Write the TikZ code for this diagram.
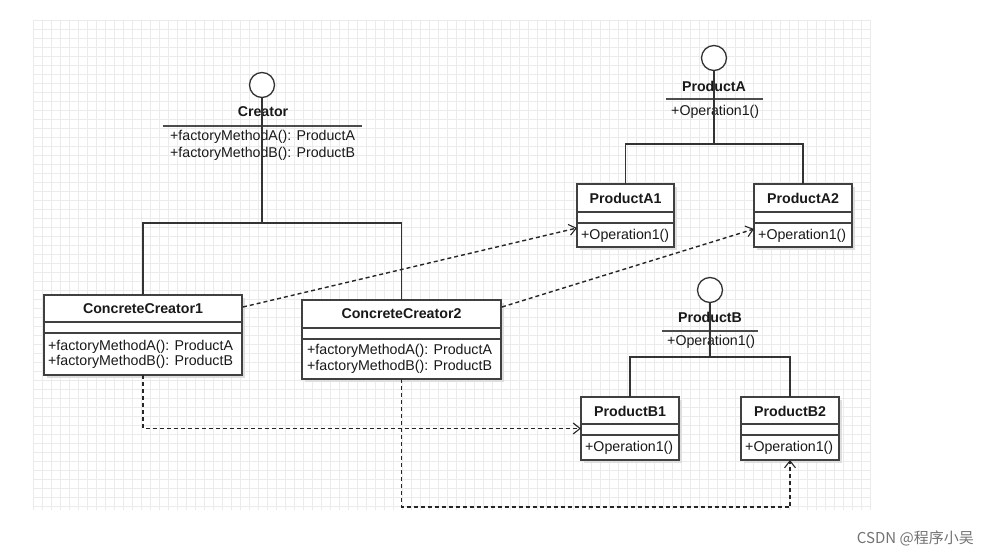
\documentclass[tikz,border=0pt]{standalone}
\usepackage{fontspec}
\setmainfont{Liberation Sans}
\newfontfamily\cjk{Noto Sans CJK SC}
\usetikzlibrary{arrows.meta,shadows,calc}
\begin{document}
\begin{tikzpicture}[x=1pt,y=-1pt,
  clsbox/.style={draw=black!75, line width=1.2pt, fill=white, inner sep=0pt, outer sep=0pt, anchor=north west,
    drop shadow={shadow xshift=3pt, shadow yshift=-3pt, fill=black!13, opacity=1}},
  sepline/.style={draw=black!75, line width=1.2pt},
  gen/.style={draw=black!80, line width=1.5pt},
  dep/.style={draw=black!85, line width=1.4pt, dash pattern=on 4pt off 3pt,
    -{Straight Barb[length=7pt,width=11pt,line width=1.1pt]}},
  ttl/.style={font=\fontsize{14.2}{16}\selectfont\bfseries, inner sep=0pt, text=black!90},
  mth/.style={font=\fontsize{14.2}{16}\selectfont, inner sep=0pt, anchor=west, text=black!90},
  lolli/.style={draw=black!80, line width=1.3pt, fill=white, circle, minimum size=25pt, inner sep=0pt},
  gridln/.style={draw=black!8, line width=0.8pt},
  hline/.style={draw=black!70, line width=1.4pt}
]
\useasboundingbox (0,0) rectangle (988,556);
\fill[white] (0,0) rectangle (988,556);
% background grid
\foreach \x in {33,42,...,870} \draw[gridln] (\x,20) -- (\x,510);
\foreach \y in {20,29,...,510} \draw[gridln] (33,\y) -- (870,\y);

% ---------- Creator interface ----------
\node[ttl] (crT) at (263,112) {Creator};
\draw[hline] (163,126) -- (362,126);
\node[mth] (crM1) at (170,137) {+factoryMethodA(): ProductA};
\node[mth] (crM2) at (170,154) {+factoryMethodB(): ProductB};
\node[lolli] (crC) at (262,85) {};

% ---------- ConcreteCreator1 ----------
\node[clsbox, minimum width=198pt, minimum height=80pt] (cc1) at (44,295) {};
\draw[sepline] (44,322) -- (242,322);
\draw[sepline] (44,333) -- (242,333);
\node[ttl] (cc1T) at (143,308.5) {ConcreteCreator1};
\node[mth] (cc1M1) at (48,347) {+factoryMethodA(): ProductA};
\node[mth] (cc1M2) at (48,362) {+factoryMethodB(): ProductB};

% ---------- ConcreteCreator2 ----------
\node[clsbox, minimum width=199pt, minimum height=79pt] (cc2) at (302,300) {};
\draw[sepline] (302,328) -- (501,328);
\draw[sepline] (302,339) -- (501,339);
\node[ttl] (cc2T) at (401.5,314) {ConcreteCreator2};
\node[mth] (cc2M1) at (307,351) {+factoryMethodA(): ProductA};
\node[mth] (cc2M2) at (307,367) {+factoryMethodB(): ProductB};

% ---------- ProductA interface ----------
\node[ttl] (paT) at (714,86) {ProductA};
\draw[hline] (666,99) -- (763,99);
\node[mth] (paM) at (671,112) {+Operation1()};
\node[lolli] (paC) at (714,58) {};

% ---------- ProductA1 / A2 ----------
\node[clsbox, minimum width=97pt, minimum height=63pt] (pa1) at (577,184) {};
\draw[sepline] (577,212) -- (674,212);
\draw[sepline] (577,223) -- (674,223);
\node[ttl] (pa1T) at (625.5,198) {ProductA1};
\node[mth] (pa1M) at (581,235.5) {+Operation1()};

\node[clsbox, minimum width=98pt, minimum height=63pt] (pa2) at (754,184) {};
\draw[sepline] (754,212) -- (852,212);
\draw[sepline] (754,223) -- (852,223);
\node[ttl] (pa2T) at (803,198) {ProductA2};
\node[mth] (pa2M) at (758,235.5) {+Operation1()};

% ---------- ProductB interface ----------
\node[ttl] (pbT) at (710,317) {ProductB};
\draw[hline] (662,331) -- (758,331);
\node[mth] (pbM) at (667,342) {+Operation1()};
\node[lolli] (pbC) at (710,290) {};

% ---------- ProductB1 / B2 ----------
\node[clsbox, minimum width=98pt, minimum height=63pt] (pb1) at (581,397) {};
\draw[sepline] (581,424) -- (679,424);
\draw[sepline] (581,435) -- (679,435);
\node[ttl] (pb1T) at (630,411) {ProductB1};
\node[mth] (pb1M) at (585,447.5) {+Operation1()};

\node[clsbox, minimum width=98pt, minimum height=63pt] (pb2) at (741,397) {};
\draw[sepline] (741,424) -- (839,424);
\draw[sepline] (741,435) -- (839,435);
\node[ttl] (pb2T) at (790,411) {ProductB2};
\node[mth] (pb2M) at (745,447.5) {+Operation1()};

% ---------- generalisation trees ----------
\coordinate (crJ) at (262,223);
\draw[gen] (crC.south) -- (crJ);
\draw[gen] (cc1.north) |- (crJ) -| (cc2.north);

\coordinate (paJ) at (714,144);
\draw[gen] (paC.south) -- (paJ);
\draw[gen] (pa1.north) |- (paJ) -| (pa2.north);

\coordinate (pbJ) at (710,357);
\draw[gen] (pbC.south) -- (pbJ);
\draw[gen] (pb1.north) |- (pbJ) -| (pb2.north);

% ---------- dependencies ----------
\draw[dep] ($(cc1.north east)+(1,12)$) -- ($(pa1.south west)+(0,-19)$);
\draw[dep] ($(cc2.north east)+(1,7)$) -- ($(pa2.south west)+(0,-18)$);
\draw[dep] (cc1.south) |- (pb1.west);
\coordinate (d4) at ($(cc2.south)+(0,128)$);
\draw[dep] (cc2.south) -- (d4) -| (pb2.south);

% ---------- watermark ----------
\node[font=\cjk\fontsize{15}{17}\selectfont, text=black!55, anchor=east, inner sep=0pt] (wm) at (974,538) {CSDN @程序小吴};
\end{tikzpicture}
\end{document}
